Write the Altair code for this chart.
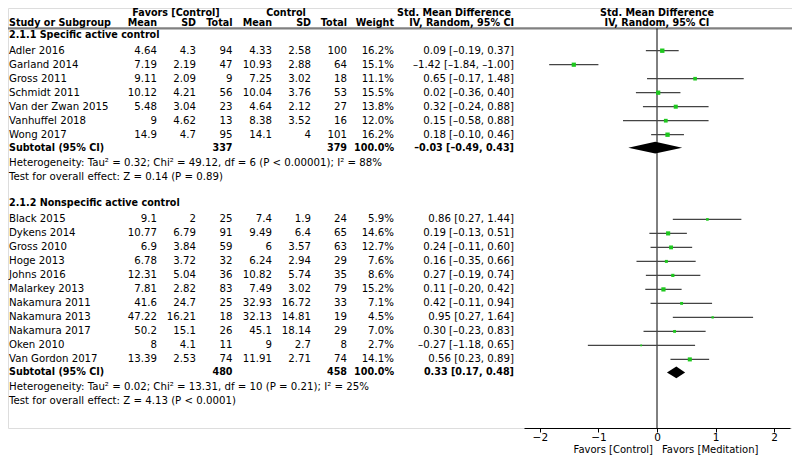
import altair as alt
import pandas as pd

# ---------------- data ----------------
sections = ["2.1.1 Specific active control", "2.1.2 Nonspecific active control"]

g1_study = ["Adler 2016", "Garland 2014", "Gross 2011", "Schmidt 2011",
            "Van der Zwan 2015", "Vanhuffel 2018", "Wong 2017"]
g1_med_mean = [4.64, 7.19, 9.11, 10.12, 5.48, 9, 14.9]
g1_med_sd = [4.3, 2.19, 2.09, 4.21, 3.04, 4.62, 4.7]
g1_med_n = [94, 47, 9, 56, 23, 13, 95]
g1_ctl_mean = [4.33, 10.93, 7.25, 10.04, 4.64, 8.38, 14.1]
g1_ctl_sd = [2.58, 2.88, 3.02, 3.76, 2.12, 3.52, 4]
g1_ctl_n = [100, 64, 18, 53, 27, 16, 101]
g1_weight = [16.2, 15.1, 11.1, 15.5, 13.8, 12.0, 16.2]
g1_smd = [0.09, -1.42, 0.65, 0.02, 0.32, 0.15, 0.18]
g1_lo = [-0.19, -1.84, -0.17, -0.36, -0.24, -0.58, -0.10]
g1_hi = [0.37, -1.00, 1.48, 0.40, 0.88, 0.88, 0.46]
g1_totals = [337, 379]
g1_pooled = [-0.03, -0.49, 0.43]
g1_het = "Heterogeneity: Tau² = 0.32; Chi² = 49.12, df = 6 (P < 0.00001); I² = 88%"
g1_test = "Test for overall effect: Z = 0.14 (P = 0.89)"

g2_study = ["Black 2015", "Dykens 2014", "Gross 2010", "Hoge 2013", "Johns 2016",
            "Malarkey 2013", "Nakamura 2011", "Nakamura 2013", "Nakamura 2017",
            "Oken 2010", "Van Gordon 2017"]
g2_med_mean = [9.1, 10.77, 6.9, 6.78, 12.31, 7.81, 41.6, 47.22, 50.2, 8, 13.39]
g2_med_sd = [2, 6.79, 3.84, 3.72, 5.04, 2.82, 24.7, 16.21, 15.1, 4.1, 2.53]
g2_med_n = [25, 91, 59, 32, 36, 83, 25, 18, 26, 11, 74]
g2_ctl_mean = [7.4, 9.49, 6, 6.24, 10.82, 7.49, 32.93, 32.13, 45.1, 9, 11.91]
g2_ctl_sd = [1.9, 6.4, 3.57, 2.94, 5.74, 3.02, 16.72, 14.81, 18.14, 2.7, 2.71]
g2_ctl_n = [24, 65, 63, 29, 35, 79, 33, 19, 29, 8, 74]
g2_weight = [5.9, 14.6, 12.7, 7.6, 8.6, 15.2, 7.1, 4.5, 7.0, 2.7, 14.1]
g2_smd = [0.86, 0.19, 0.24, 0.16, 0.27, 0.11, 0.42, 0.95, 0.30, -0.27, 0.56]
g2_lo = [0.27, -0.13, -0.11, -0.35, -0.19, -0.20, -0.11, 0.27, -0.23, -1.18, 0.23]
g2_hi = [1.44, 0.51, 0.60, 0.66, 0.74, 0.42, 0.94, 1.64, 0.83, 0.65, 0.89]
g2_totals = [480, 458]
g2_pooled = [0.33, 0.17, 0.48]
g2_het = "Heterogeneity: Tau² = 0.02; Chi² = 13.31, df = 10 (P = 0.21); I² = 25%"
g2_test = "Test for overall effect: Z = 4.13 (P < 0.0001)"

header_top = ["Favors [Control]", "Control", "Std. Mean Difference", "Std. Mean Difference"]
header_cols = ["Study or Subgroup", "Mean", "SD", "Total", "Mean", "SD", "Total",
               "Weight", "IV, Random, 95% CI", "IV, Random, 95% CI"]
axis_ticks = [-2, -1, 0, 1, 2]
footer = ["Favors [Control]", "Favors [Meditation]"]

groups = [
    dict(study=g1_study, mm=g1_med_mean, ms=g1_med_sd, mn=g1_med_n, cm=g1_ctl_mean,
         cs=g1_ctl_sd, cn=g1_ctl_n, w=g1_weight, smd=g1_smd, lo=g1_lo, hi=g1_hi,
         tot=g1_totals, pooled=g1_pooled, het=g1_het, test=g1_test),
    dict(study=g2_study, mm=g2_med_mean, ms=g2_med_sd, mn=g2_med_n, cm=g2_ctl_mean,
         cs=g2_ctl_sd, cn=g2_ctl_n, w=g2_weight, smd=g2_smd, lo=g2_lo, hi=g2_hi,
         tot=g2_totals, pooled=g2_pooled, het=g2_het, test=g2_test),
]


def num(v):
    return f"{v:g}"


def dash(s):
    return s.replace("-", "–")


def ci_text(e, l, h):
    return dash(f"{e:.2f} [{l:.2f}, {h:.2f}]")


# ---------------- layout (row slots) ----------------
cells = []      # table texts
studies = []    # forest points
diamonds = []   # pooled diamonds

slot = 1.9
for gi, (sec, g) in enumerate(zip(sections, groups)):
    cells.append(dict(slot=slot, col="study", text=sec, bold=True))
    n = len(g["study"])
    for i in range(n):
        s = slot + 1.15 + i
        cells += [
            dict(slot=s, col="study", text=g["study"][i], bold=False),
            dict(slot=s, col="mm", text=num(g["mm"][i]), bold=False),
            dict(slot=s, col="ms", text=num(g["ms"][i]), bold=False),
            dict(slot=s, col="mn", text=num(g["mn"][i]), bold=False),
            dict(slot=s, col="cm", text=num(g["cm"][i]), bold=False),
            dict(slot=s, col="cs", text=num(g["cs"][i]), bold=False),
            dict(slot=s, col="cn", text=num(g["cn"][i]), bold=False),
            dict(slot=s, col="w", text=f"{g['w'][i]:.1f}%", bold=False),
            dict(slot=s, col="ci", text=ci_text(g["smd"][i], g["lo"][i], g["hi"][i]), bold=False),
        ]
        studies.append(dict(slot=s, smd=g["smd"][i], lo=g["lo"][i], hi=g["hi"][i], weight=g["w"][i]))
    sub = slot + 1.15 + n - 0.07
    e, l, h = g["pooled"]
    cells += [
        dict(slot=sub, col="study", text="Subtotal (95% CI)", bold=True),
        dict(slot=sub, col="mn", text=str(g["tot"][0]), bold=True),
        dict(slot=sub, col="cn", text=str(g["tot"][1]), bold=True),
        dict(slot=sub, col="w", text="100.0%", bold=True),
        dict(slot=sub, col="ci", text=ci_text(e, l, h), bold=True),
        dict(slot=sub + 1.07, col="study", text=g["het"], bold=False),
        dict(slot=sub + 2.07, col="study", text=g["test"], bold=False),
    ]
    half = 0.42
    diamonds += [
        dict(gid=gi, x=l, y1=sub, y2=sub),
        dict(gid=gi, x=e, y1=sub - half, y2=sub + half),
        dict(gid=gi, x=h, y1=sub, y2=sub),
    ]
    slot = sub + 2.07 + 1.9

# headers
cells += [
    dict(slot=0.37, col="h_fav", text=header_top[0], bold=True),
    dict(slot=0.37, col="h_ctl", text=header_top[1], bold=True),
    dict(slot=0.37, col="h_smd", text=header_top[2], bold=True),
    dict(slot=0.37, col="h_plot", text=header_top[3], bold=True),
]
for c, t in zip(["study", "mm", "ms", "mn", "cm", "cs", "cn", "w", "ci", "h_plot"], header_cols):
    cells.append(dict(slot=1.04, col=c, text=t, bold=True))

cells_df = pd.DataFrame(cells)
studies_df = pd.DataFrame(studies)
diamonds_df = pd.DataFrame(diamonds)

# ---------------- chart ----------------
FONT = "DejaVu Sans"
FS = 10.2
FSB = 9.6
W, H = 784, 420
col_pos = {
    "study": (1, "left"), "mm": (149, "right"), "ms": (188, "right"), "mn": (224.5, "right"),
    "cm": (264, "right"), "cs": (303, "right"), "cn": (339, "right"), "w": (386, "right"),
    "ci": (506, "right"), "h_fav": (168, "center"), "h_ctl": (278, "center"),
    "h_smd": (446, "center"), "h_plot": (649, "center"),
}

yscale = alt.Scale(domain=[0, 30], range=[0, H], nice=False, zero=False)
xscale = alt.Scale(domain=[-2.27, 2.27], range=[516, 782], nice=False, zero=False)
xaxis = alt.Axis(values=axis_ticks, title=None, grid=False, domainColor="black",
                 tickColor="black", tickSize=4, labelPadding=0, labelFont=FONT,
                 labelFontSize=10.5, labelColor="black", domainWidth=1, tickWidth=1)

layers = []

# header rule
layers.append(
    alt.Chart(pd.DataFrame({"slot": [1.46]})).mark_rule(color="#808080", strokeWidth=2.2)
    .encode(x=alt.value(0), x2=alt.value(W), y=alt.Y("slot:Q", scale=yscale, axis=None))
)

# table text
for col, (xp, align) in col_pos.items():
    for bold in (False, True):
        sub = cells_df[(cells_df.col == col) & (cells_df.bold == bold)]
        if len(sub) == 0:
            continue
        layers.append(
            alt.Chart(sub).mark_text(align=align, baseline="middle", font=FONT,
                                     fontSize=FSB if bold else FS,
                                     fontWeight="bold" if bold else "normal", color="black")
            .encode(x=alt.value(xp), y=alt.Y("slot:Q", scale=yscale, axis=None), text="text:N")
        )

# zero line
layers.append(
    alt.Chart(pd.DataFrame({"x": [0], "y1": [1.46], "y2": [30]})).mark_rule(color="black", strokeWidth=1)
    .encode(x=alt.X("x:Q", scale=xscale, axis=xaxis),
            y=alt.Y("y1:Q", scale=yscale, axis=None), y2="y2:Q")
)

# CI lines
layers.append(
    alt.Chart(studies_df).mark_rule(color="#444444", strokeWidth=1.2)
    .encode(x=alt.X("lo:Q", scale=xscale, axis=xaxis), x2="hi:Q",
            y=alt.Y("slot:Q", scale=yscale, axis=None))
)

# squares
layers.append(
    alt.Chart(studies_df).mark_square(color="#1ec81e", opacity=1)
    .encode(x=alt.X("smd:Q", scale=xscale, axis=xaxis),
            y=alt.Y("slot:Q", scale=yscale, axis=None),
            size=alt.Size("weight:Q", scale=alt.Scale(domain=[0, 16.2], range=[0, 19]), legend=None))
)

# diamonds
layers.append(
    alt.Chart(diamonds_df).mark_area(color="black", orient="vertical", opacity=1)
    .encode(x=alt.X("x:Q", scale=xscale, axis=xaxis),
            y=alt.Y("y1:Q", scale=yscale, axis=None), y2="y2:Q", detail="gid:N")
)

# footer labels
footer_df = pd.DataFrame({"text": footer})
layers.append(
    alt.Chart(footer_df.iloc[[0]]).mark_text(align="right", baseline="middle", font=FONT,
                                             fontSize=10, color="black")
    .encode(x=alt.value(645), y=alt.value(441.5), text="text:N")
)
layers.append(
    alt.Chart(footer_df.iloc[[1]]).mark_text(align="left", baseline="middle", font=FONT,
                                             fontSize=10, color="black")
    .encode(x=alt.value(654), y=alt.value(441.5), text="text:N")
)

chart = (
    alt.layer(*layers)
    .properties(width=W, height=H, autosize=alt.AutoSizeParams(type="none"),
                padding={"left": 0, "top": 0, "right": 0, "bottom": 28})
    .configure_view(stroke=None)
    .configure(background="white")
)

chart.save("out.html", embed_options={"renderer": "svg", "actions": False})
